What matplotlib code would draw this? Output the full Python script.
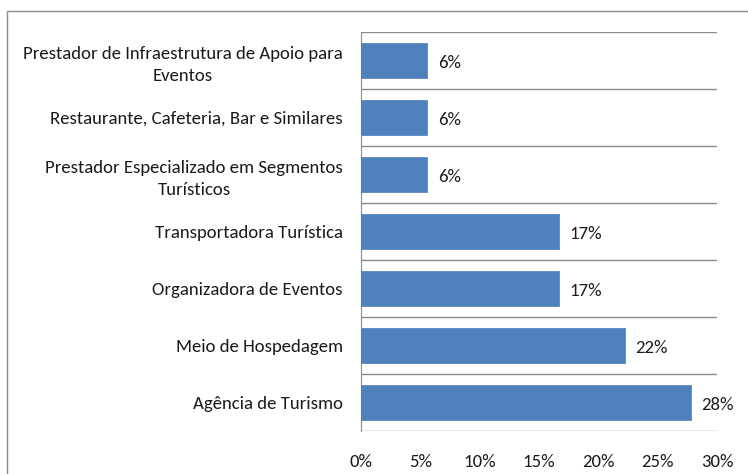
import numpy as np
import matplotlib
matplotlib.use('Agg')
import matplotlib.pyplot as plt
from matplotlib.patches import Rectangle
from matplotlib.ticker import FuncFormatter

plt.rcParams['font.family'] = ['Carlito', 'DejaVu Sans']

categorias = ['Agência de Turismo',
              'Meio de Hospedagem',
              'Organizadora de Eventos',
              'Transportadora Turística',
              'Prestador Especializado em Segmentos\nTurísticos',
              'Restaurante, Cafeteria, Bar e Similares',
              'Prestador de Infraestrutura de Apoio para\nEventos']
valores = [27.78, 22.22, 16.67, 16.67, 5.56, 5.56, 5.56]
rotulos = ['28%', '22%', '17%', '17%', '6%', '6%', '6%']
xticks = [0, 5, 10, 15, 20, 25, 30]

fig = plt.figure(figsize=(7.48, 4.74), dpi=100)
ax = fig.add_axes([361/748, 1 - 431/474, (717 - 361)/748, (431 - 32)/474])

# outer chart border (cut by image edge on right and bottom)
fig.patches.append(Rectangle((7/748, -0.05), 1.0, 1 - 11/474 + 0.05,
                             transform=fig.transFigure, fill=False,
                             edgecolor='#8c8c8c', linewidth=1.0))

y = np.arange(len(categorias))
ax.barh(y, valores, height=0.6, color='#4F81BD', edgecolor='#4a7ab5', linewidth=0.5, zorder=3)
for yi, v, r in zip(y, valores, rotulos):
    ax.text(v + 0.9, yi - 0.05, r, va='center', ha='left', fontsize=13.5, color='#1a1a1a')

ax.set_xlim(0, 30)
ax.set_ylim(-0.5, len(categorias) - 0.5)
ax.set_xticks(xticks)
ax.xaxis.set_major_formatter(FuncFormatter(lambda v, p: f'{v:.0f}%'))
ax.set_yticks(y)
ax.set_yticklabels(categorias)
for lab in ax.get_yticklabels():
    lab.set_multialignment('center')
    lab.set_linespacing(1.45)

# category boundary gridlines
for b in np.arange(-0.5, len(categorias), 1.0):
    ax.axhline(b, color='#8c8c8c', linewidth=1.0, zorder=1)

for s in ['top', 'right', 'bottom']:
    ax.spines[s].set_visible(False)
ax.spines['left'].set_color('#8c8c8c')
ax.tick_params(axis='both', length=0, labelsize=13.5, colors='#1a1a1a')
ax.tick_params(axis='y', pad=13)
ax.tick_params(axis='x', pad=16.5)

fig.savefig('out.png', dpi=100)
